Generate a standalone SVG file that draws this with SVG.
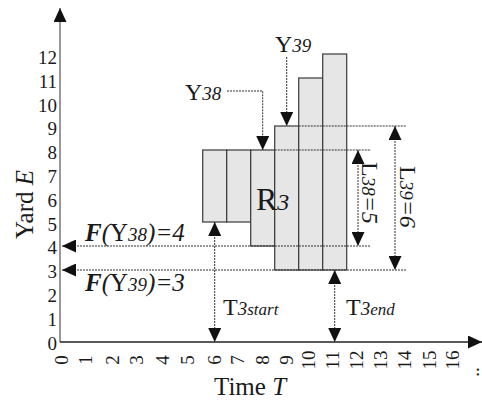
<svg xmlns="http://www.w3.org/2000/svg" width="482" height="400" viewBox="0 0 482 400">
<style>
text{font-family:"Liberation Serif","Times New Roman",serif;fill:#1a1a1a}
.tk{font-size:19px}
.tx{font-size:19px}
.big{font-size:25px}
.it{font-style:italic}
.sm{font-size:19px;font-style:italic}
.xs{font-size:17px;font-style:italic}
.col{fill:#e6e6e6;stroke:#3a3a3a;stroke-width:1.2}
.dot{fill:none;stroke:#333;stroke-width:1;stroke-dasharray:2 1}
.axis{fill:none;stroke:#222;stroke-width:1.4}
</style>
<defs>
<marker id="ah" viewBox="0 0 14 13" refX="14" refY="6.5" markerWidth="14" markerHeight="13" markerUnits="userSpaceOnUse" orient="auto-start-reverse">
<path d="M0,0 L14,6.5 L0,13 z" fill="#111"/>
</marker>
</defs>

<g id="axes">
<line class="axis" x1="60" y1="342" x2="60" y2="8" style="stroke:#555;stroke-width:1.2" marker-end="url(#ah)"/>
<line class="axis" x1="60" y1="342" x2="482" y2="342" marker-end="url(#ah)"/>
</g>

<g id="y-ticks" text-anchor="end">
<text class="tk" x="57" y="349.5">0</text>
<text class="tk" x="57" y="325.7">1</text>
<text class="tk" x="57" y="301.9">2</text>
<text class="tk" x="57" y="278.1">3</text>
<text class="tk" x="57" y="254.3">4</text>
<text class="tk" x="57" y="230.5">5</text>
<text class="tk" x="57" y="206.7">6</text>
<text class="tk" x="57" y="182.9">7</text>
<text class="tk" x="57" y="159.1">8</text>
<text class="tk" x="57" y="135.3">9</text>
<text class="tk" x="57" y="111.5">10</text>
<text class="tk" x="57" y="87.7">11</text>
<text class="tk" x="57" y="63.9">12</text>
</g>

<g id="x-ticks" text-anchor="middle">
<text class="tx" transform="translate(68,360) rotate(-90)">0</text>
<text class="tx" transform="translate(92,360) rotate(-90)">1</text>
<text class="tx" transform="translate(119,360) rotate(-90)">2</text>
<text class="tx" transform="translate(143,360) rotate(-90)">3</text>
<text class="tx" transform="translate(169,360) rotate(-90)">4</text>
<text class="tx" transform="translate(194,360) rotate(-90)">5</text>
<text class="tx" transform="translate(221,360) rotate(-90)">6</text>
<text class="tx" transform="translate(244,360) rotate(-90)">7</text>
<text class="tx" transform="translate(269,360) rotate(-90)">8</text>
<text class="tx" transform="translate(293,360) rotate(-90)">9</text>
<text class="tx" transform="translate(315,360) rotate(-90)">10</text>
<text class="tx" transform="translate(339,360) rotate(-90)">11</text>
<text class="tx" transform="translate(363,360) rotate(-90)">12</text>
<text class="tx" transform="translate(387,360) rotate(-90)">13</text>
<text class="tx" transform="translate(411,360) rotate(-90)">14</text>
<text class="tx" transform="translate(436,360) rotate(-90)">15</text>
<text class="tx" transform="translate(459,360) rotate(-90)">16</text>
<text class="tx" transform="translate(479,372) rotate(-90)">..</text>
</g>

<g id="axis-titles">
<text class="big" transform="translate(33,239) rotate(-90)">Yard <tspan class="it">E</tspan></text>
<text class="big" x="214" y="395">Time <tspan class="it">T</tspan></text>
</g>

<g id="R3">
<rect class="col" x="202.7" y="150" width="24" height="72"/>
<rect class="col" x="226.7" y="150" width="24" height="72"/>
<rect class="col" x="250.7" y="150" width="24" height="96"/>
<rect class="col" x="274.7" y="126" width="24" height="144"/>
<rect class="col" x="298.7" y="78" width="24" height="192"/>
<rect class="col" x="322.7" y="54" width="24" height="216"/>
<text x="256" y="210" style="font-size:32px">R<tspan class="it" style="font-size:24px">3</tspan></text>
</g>

<g id="connectors">
<line class="dot" x1="298.7" y1="126" x2="406" y2="126"/>
<line class="dot" x1="274.7" y1="150" x2="371" y2="150"/>
<line class="dot" x1="370" y1="246" x2="62" y2="246" marker-end="url(#ah)"/>
<line class="dot" x1="406" y1="270" x2="62" y2="270" marker-end="url(#ah)"/>
<line class="dot" x1="358" y1="150" x2="358" y2="246" marker-start="url(#ah)" marker-end="url(#ah)"/>
<line class="dot" x1="395" y1="126" x2="395" y2="270" marker-start="url(#ah)" marker-end="url(#ah)"/>
<line class="dot" x1="214.7" y1="222" x2="214.7" y2="342" marker-start="url(#ah)" marker-end="url(#ah)"/>
<line class="dot" x1="334.7" y1="270" x2="334.7" y2="342" marker-start="url(#ah)" marker-end="url(#ah)"/>
<path class="dot" d="M227,91 H262.7 V150" marker-end="url(#ah)"/>
<path class="dot" d="M286.7,57 V126" marker-end="url(#ah)"/>
</g>

<g id="labels">
<text x="185" y="100" style="font-size:24px">Y<tspan class="sm">38</tspan></text>
<text x="275" y="52" style="font-size:24px">Y<tspan class="sm">39</tspan></text>
<text class="big" x="85" y="241"><tspan font-weight="bold" class="it">F</tspan><tspan class="it">(</tspan>Y<tspan class="sm">38</tspan><tspan class="it">)=4</tspan></text>
<text class="big" x="85" y="291"><tspan font-weight="bold" class="it">F</tspan><tspan class="it">(</tspan>Y<tspan class="sm">39</tspan><tspan class="it">)=3</tspan></text>
<text x="223" y="315" style="font-size:24px">T<tspan class="sm">3</tspan><tspan class="xs">start</tspan></text>
<text x="346" y="315" style="font-size:24px">T<tspan class="sm">3</tspan><tspan class="xs">end</tspan></text>
<text transform="translate(362,162) rotate(90)" style="font-size:24px">L<tspan class="sm">38</tspan><tspan class="it">=5</tspan></text>
<text transform="translate(400,166) rotate(90)" style="font-size:24px">L<tspan class="sm">39</tspan><tspan class="it">=6</tspan></text>
</g>
</svg>
